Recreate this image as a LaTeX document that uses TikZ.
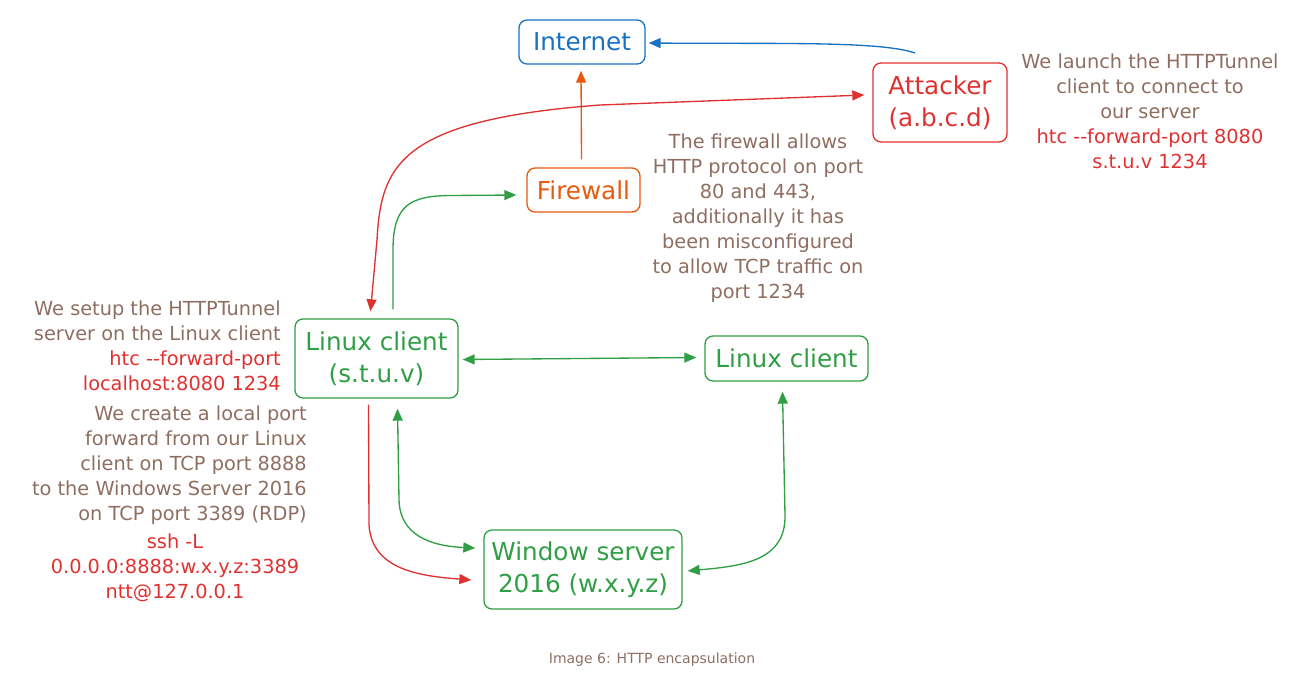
\documentclass[tikz,border=0pt]{standalone}
\usepackage{fontspec}
\setmainfont{DejaVu Sans}
\usetikzlibrary{arrows.meta,calc}
\definecolor{cblue}{HTML}{1971C2}
\definecolor{cred}{HTML}{E03131}
\definecolor{cgreen}{HTML}{2F9E44}
\definecolor{corange}{HTML}{E8590C}
\definecolor{cbrown}{HTML}{8F6E62}
\begin{document}
\begin{tikzpicture}[x=0.75pt,y=-0.75pt,
  box/.style={draw,rounded corners=6pt,line width=1pt,inner sep=0pt,align=center,font=\fontsize{18.5}{24}\selectfont},
  note/.style={text=cbrown,font=\fontsize{14.5}{18.75}\selectfont,inner sep=0pt},
  tip/.tip={Triangle[length=9pt,width=7.5pt]},
  conn/.style={line width=1pt,-tip},
  bi/.style={line width=1pt,tip-tip},
]
\useasboundingbox (0,0) rectangle (1303,690);

% nodes
\node[box,draw=cblue,text=cblue,minimum width=94.5pt,minimum height=33pt] (inet) at (582,42) {Internet};
\node[box,draw=cred,text=cred,minimum width=100.5pt,minimum height=59.25pt] (att) at (940,102.5) {Attacker\\(a.b.c.d)};
\node[box,draw=corange,text=corange,minimum width=84.75pt,minimum height=33pt] (fw) at (583.5,190) {Firewall};
\node[box,draw=cgreen,text=cgreen,minimum width=122.25pt,minimum height=59.25pt] (lc) at (376.5,358.5) {Linux client\\(s.t.u.v)};
\node[box,draw=cgreen,text=cgreen,minimum width=122.25pt,minimum height=33.75pt] (lc2) at (786.5,358.5) {Linux client};
\node[box,draw=cgreen,text=cgreen,minimum width=148.5pt,minimum height=59.25pt] (ws) at (583,569.5) {Window server\\2016 (w.x.y.z)};

% notes
\node[note,align=center] (natt) at (1150,111) {We launch the HTTPTunnel\\client to connect to\\our server\\\textcolor{cred}{htc -{}-forward-port 8080}\\\textcolor{cred}{s.t.u.v 1234}};
\node[note,align=center] (nfw) at (758,218.5) {The firewall allows\\HTTP protocol on port\\80 and 443,\\additionally it has\\been misconfigured\\to allow TCP traffic on\\port 1234};
\node[note,align=right,anchor=east] (nlc) at (281,345.5) {We setup the HTTPTunnel\\server on the Linux client\\\textcolor{cred}{htc -{}-forward-port}\\\textcolor{cred}{localhost:8080 1234}};
\node[note,align=right,anchor=east] (nfwd) at (307,465) {We create a local port\\forward from our Linux\\client on TCP port 8888\\to the Windows Server 2016\\on TCP port 3389 (RDP)};
\node[note,align=center,text=cred] (nssh) at (175,567.5) {ssh -L\\0.0.0.0:8888:w.x.y.z:3389\\ntt@127.0.0.1};
\node[text=cbrown,font=\fontsize{10.5}{13}\selectfont,inner sep=0pt] (cap) at (652,660) {Image 6: HTTP encapsulation};

% connectors
\coordinate (bs) at (915,53);
\draw[conn,cblue] (bs) .. controls (880,41) and (780,44) .. ($(inet.east)+(3,1)$);
\draw[conn,corange] ($(fw.north)+(-2,-8)$) -- ($(inet.south)+(-1,6)$);
\draw[bi,cred] ($(lc.north)+(-6,-7)$) -- (377,240) .. controls (381,165) and (400,120) .. (600,105) -- ($(att.west)+(-8,-7.5)$);
\draw[conn,cgreen] ($(lc.north)+(16.5,-9)$) -- (393,250) .. controls (393,205) and (410,196) .. (450,195.5) -- ($(fw.west)+(-10,5)$);
\draw[bi,cgreen] ($(lc.east)+(4,1)$) -- ($(lc2.west)+(-8,-1)$);
\draw[bi,cgreen] ($(lc.south)+(21,10)$) -- (399,500) .. controls (400,535) and (430,546) .. ($(ws.west)+(-8,-21.5)$);
\draw[conn,cred] ($(lc.south)+(-8,6)$) -- (369,525) .. controls (372,570) and (420,576) .. ($(ws.west)+(-12,10.5)$);
\draw[bi,cgreen] ($(lc2.south)+(-4,10)$) -- (785,515) .. controls (786,562) and (740,566) .. ($(ws.east)+(5,1.5)$);
\end{tikzpicture}
\end{document}
